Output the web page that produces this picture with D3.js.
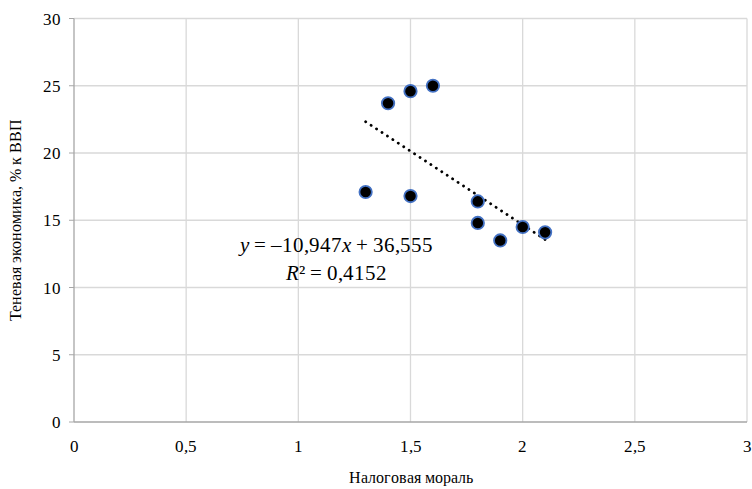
<!DOCTYPE html>
<html><head><meta charset="utf-8">
<script src="https://cdn.jsdelivr.net/npm/d3@7"></script>
<style>
@font-face{font-family:"ChartSerif";src:local("Liberation Serif"),local("LiberationSerif-Regular");font-style:normal;}
@font-face{font-family:"ChartSerif";src:local("Liberation Serif Italic"),local("LiberationSerif-Italic");font-style:italic;}
body{margin:0;background:#fff}
#c text{font-family:"ChartSerif","Times New Roman",serif}
</style>
</head><body>
<svg id="c" width="752" height="489"></svg>
<script>
const xValues = [1.3, 1.4, 1.5, 1.6, 1.5, 1.8, 1.8, 1.9, 2.0, 2.1];
const yValues = [17.1, 23.7, 24.6, 25.0, 16.8, 16.4, 14.8, 13.5, 14.5, 14.1];
const xTicks = [0, 0.5, 1, 1.5, 2, 2.5, 3];
const yTicks = [0, 5, 10, 15, 20, 25, 30];
const slope = -10.947, intercept = 36.555;
const xTitle = "Налоговая мораль";
const yTitle = "Теневая экономика, % к ВВП";

const svg = d3.select("#c");
const L = 74, R = 747, T = 18.5, B = 422;
const x = d3.scaleLinear().domain([0, 3]).range([L, R]);
const y = d3.scaleLinear().domain([0, 30]).range([B, T]);
const fmt = d => String(d).replace(".", ",");

svg.append("g").selectAll("line").data(xTicks.filter(d => d > 0)).join("line")
  .attr("x1", d => x(d)).attr("x2", d => x(d)).attr("y1", T).attr("y2", B)
  .attr("stroke", "#d9d9d9").attr("stroke-width", 1.3);
svg.append("g").selectAll("line").data(yTicks.filter(d => d > 0)).join("line")
  .attr("x1", L).attr("x2", R).attr("y1", d => y(d)).attr("y2", d => y(d))
  .attr("stroke", "#d9d9d9").attr("stroke-width", 1.3);

svg.append("line").attr("x1", L).attr("x2", L).attr("y1", T).attr("y2", B).attr("stroke", "#a6a6a6").attr("stroke-width", 1.3);
svg.append("line").attr("x1", L).attr("x2", R).attr("y1", B).attr("y2", B).attr("stroke", "#a6a6a6").attr("stroke-width", 1.3);
svg.append("g").selectAll("line").data(yTicks).join("line")
  .attr("x1", L - 5).attr("x2", L).attr("y1", d => y(d)).attr("y2", d => y(d)).attr("stroke", "#a6a6a6");

svg.selectAll("text.xt").data(xTicks).join("text").attr("class", "xt")
  .attr("x", d => x(d)).attr("y", B + 30).attr("text-anchor", "middle")
  .attr("font-size", 17).text(fmt);
svg.selectAll("text.yt").data(yTicks).join("text").attr("class", "yt")
  .attr("x", L - 13).attr("y", d => y(d) + 6).attr("text-anchor", "end")
  .attr("font-size", 17).text(fmt);

const tx = d3.extent(xValues);
svg.append("line")
  .attr("x1", x(tx[0])).attr("y1", y(slope * tx[0] + intercept))
  .attr("x2", x(tx[1])).attr("y2", y(slope * tx[1] + intercept))
  .attr("stroke", "#000").attr("stroke-width", 2.8)
  .attr("stroke-dasharray", "0.1 6.4").attr("stroke-linecap", "round");

svg.append("g").selectAll("circle").data(xValues.map((d, i) => [d, yValues[i]])).join("circle")
  .attr("cx", d => x(d[0])).attr("cy", d => y(d[1])).attr("r", 6.2)
  .attr("fill", "#000").attr("stroke", "#4472c4").attr("stroke-width", 1.8);

const eq = svg.append("text").attr("x", 336).attr("y", 252).attr("text-anchor", "middle")
  .attr("font-size", 21).attr("fill", "#000");
eq.append("tspan").attr("font-style", "italic").text("y");
eq.append("tspan").text(" = –10,947");
eq.append("tspan").attr("font-style", "italic").text("x");
eq.append("tspan").text(" + 36,555");
const r2 = svg.append("text").attr("x", 336).attr("y", 280).attr("text-anchor", "middle")
  .attr("font-size", 21).attr("fill", "#000");
r2.append("tspan").attr("font-style", "italic").text("R");
r2.append("tspan").text("² = 0,4152");

svg.append("text").attr("x", (L + R) / 2).attr("y", 483).attr("text-anchor", "middle")
  .attr("font-size", 16).text(xTitle);
svg.append("text").attr("transform", `translate(21,${(T + B) / 2}) rotate(-90)`)
  .attr("text-anchor", "middle").attr("font-size", 16).text(yTitle);
</script>
</body></html>
